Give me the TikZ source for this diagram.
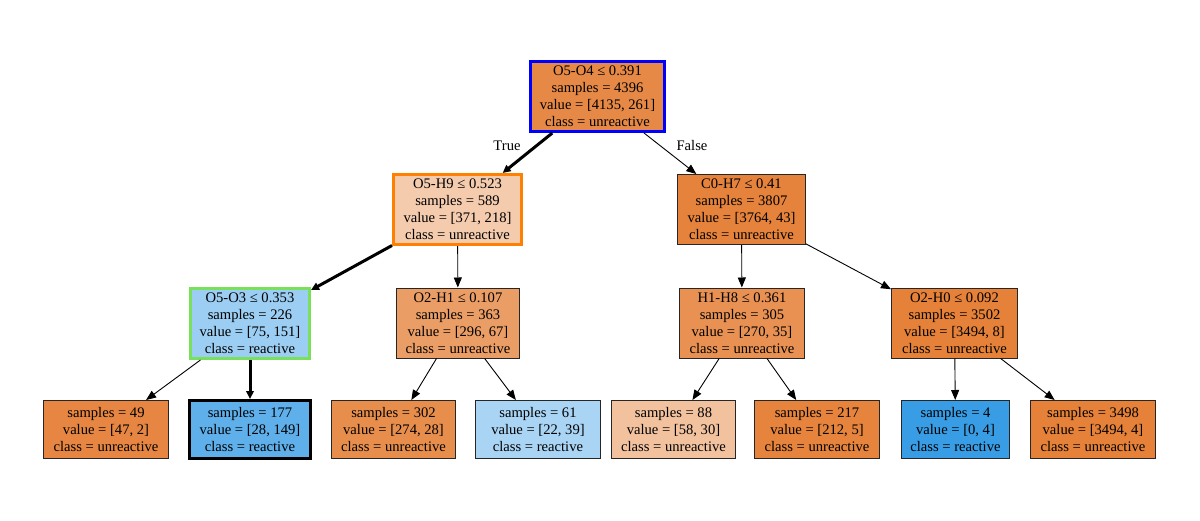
\documentclass[tikz,border=0pt]{standalone}
\usepackage{fontspec}
\setmainfont{Liberation Serif}
\usetikzlibrary{arrows.meta}
\definecolor{cRoot}{RGB}{231,137,70}
\definecolor{cA}{RGB}{244,203,173}
\definecolor{cB}{RGB}{229,130,59}
\definecolor{cC}{RGB}{155,206,242}
\definecolor{cD}{RGB}{235,157,102}
\definecolor{cE}{RGB}{232,145,83}
\definecolor{cF}{RGB}{229,129,57}
\definecolor{cL1}{RGB}{230,134,66}
\definecolor{cL2}{RGB}{94,175,234}
\definecolor{cL3}{RGB}{232,142,77}
\definecolor{cL4}{RGB}{169,212,244}
\definecolor{cL5}{RGB}{242,194,159}
\definecolor{cL6}{RGB}{230,132,62}
\definecolor{cL7}{RGB}{57,157,229}
\definecolor{cL8}{RGB}{229,129,57}
\definecolor{bBlue}{RGB}{0,0,255}
\definecolor{bOrange}{RGB}{255,127,0}
\definecolor{bGreen}{RGB}{120,224,90}
\begin{document}
\begin{tikzpicture}[x=1pt,y=-1pt,
  box/.style={draw=black!85, line width=1pt, rectangle, inner sep=0pt, align=center,
    font=\fontsize{14.6}{17}\selectfont, minimum height=70pt},
  leafbox/.style={box, minimum height=58pt},
  hl/.style={line width=3pt},
  edge/.style={-{Triangle[length=10pt,width=8pt]}, line width=0.9pt, black},
  hot/.style={-{Triangle[length=8pt,width=7.5pt]}, line width=3pt, black},
  lbl/.style={font=\fontsize{14.6}{17}\selectfont, inner sep=0pt}]
\useasboundingbox (0,0) rectangle (1200,520);
\fill[white] (0,0) rectangle (1200,520);

\node[box, hl, draw=bBlue, fill=cRoot, minimum width=134pt] (root) at (597.5,96.5)
  {O5-O4 ≤ 0.391\\samples = 4396\\value = [4135, 261]\\class = unreactive};
\node[box, hl, draw=bOrange, fill=cA, minimum width=128pt] (n1) at (457.5,209.5)
  {O5-H9 ≤ 0.523\\samples = 589\\value = [371, 218]\\class = unreactive};
\node[box, fill=cB, minimum width=128pt] (n2) at (741.5,209.5)
  {C0-H7 ≤ 0.41\\samples = 3807\\value = [3764, 43]\\class = unreactive};
\node[box, hl, draw=bGreen, fill=cC, minimum width=119pt] (n3) at (250,323.5)
  {O5-O3 ≤ 0.353\\samples = 226\\value = [75, 151]\\class = reactive};
\node[box, fill=cD, minimum width=123pt] (n4) at (458,323)
  {O2-H1 ≤ 0.107\\samples = 363\\value = [296, 67]\\class = unreactive};
\node[box, fill=cE, minimum width=125pt] (n5) at (742,323)
  {H1-H8 ≤ 0.361\\samples = 305\\value = [270, 35]\\class = unreactive};
\node[box, fill=cF, minimum width=126pt] (n6) at (954.5,323)
  {O2-H0 ≤ 0.092\\samples = 3502\\value = [3494, 8]\\class = unreactive};

\node[leafbox, fill=cL1, minimum width=125pt] (l1) at (106,429.5)
  {samples = 49\\value = [47, 2]\\class = unreactive};
\node[leafbox, hl, draw=black, fill=cL2, minimum width=121pt] (l2) at (250,429.5)
  {samples = 177\\value = [28, 149]\\class = reactive};
\node[leafbox, fill=cL3, minimum width=124pt] (l3) at (393.5,429.5)
  {samples = 302\\value = [274, 28]\\class = unreactive};
\node[leafbox, fill=cL4, minimum width=125pt] (l4) at (538,429.5)
  {samples = 61\\value = [22, 39]\\class = reactive};
\node[leafbox, fill=cL5, minimum width=124pt] (l5) at (673.5,429.5)
  {samples = 88\\value = [58, 30]\\class = unreactive};
\node[leafbox, fill=cL6, minimum width=125pt] (l6) at (817,429.5)
  {samples = 217\\value = [212, 5]\\class = unreactive};
\node[leafbox, fill=cL7, minimum width=108pt] (l7) at (955.5,429.5)
  {samples = 4\\value = [0, 4]\\class = reactive};
\node[leafbox, fill=cL8, minimum width=125pt] (l8) at (1093,429.5)
  {samples = 3498\\value = [3494, 4]\\class = unreactive};

\draw[hot] (root) -- (n1);
\draw[edge] (root) -- (n2);
\draw[hot] (n1) -- (n3);
\draw[edge] (n1) -- (n4);
\draw[edge] (n2) -- (n5);
\draw[edge] (n2) -- (n6);
\draw[edge] (n3) -- (l1);
\draw[hot] (n3) -- (l2);
\draw[edge] (n4) -- (l3);
\draw[edge] (n4) -- (l4);
\draw[edge] (n5) -- (l5);
\draw[edge] (n5) -- (l6);
\draw[edge] (n6) -- (l7);
\draw[edge] (n6) -- (l8);

\node[lbl] (tlab) at (507,146) {True};
\node[lbl] (flab) at (692,146) {False};
\end{tikzpicture}
\end{document}
